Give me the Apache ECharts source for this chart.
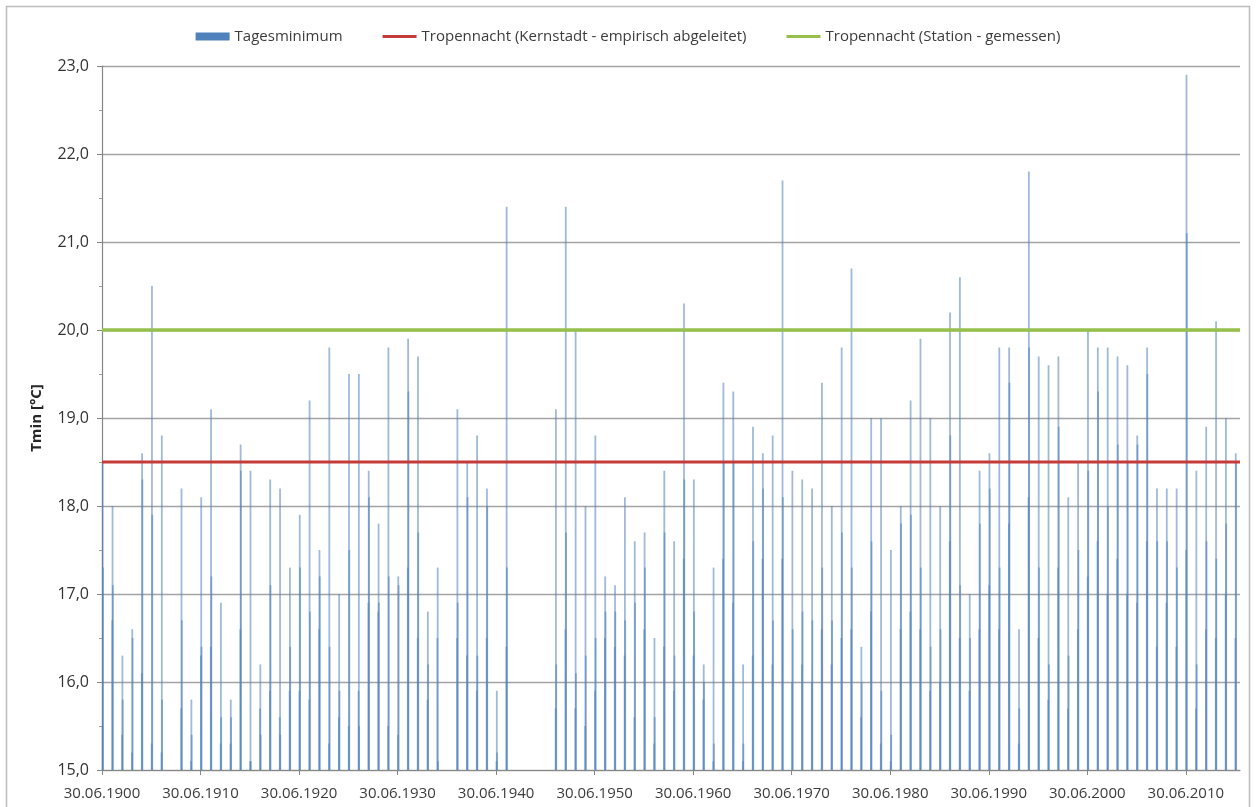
<!DOCTYPE html>
<html>
<head>
<meta charset="utf-8">
<script src="https://cdn.jsdelivr.net/npm/echarts@6/dist/echarts.min.js"></script>
<style>
html,body{margin:0;padding:0;background:#fff;}
#chart{width:1256px;height:807px;}
</style>
</head>
<body>
<div id="chart"></div>
<script>
// Years with summer daily minima above 15 °C (no data 1942-1945)
const years = [
  1900,1901,1902,1903,1904,1905,1906,1908,1909,1910,
  1911,1912,1913,1914,1915,1916,1917,1918,1919,1920,
  1921,1922,1923,1924,1925,1926,1927,1928,1929,1930,
  1931,1932,1933,1934,1936,1937,1938,1939,1940,1941,
  1946,1947,1948,1949,1950,1951,1952,1953,1954,1955,
  1956,1957,1958,1959,1960,1961,1962,1963,1964,1965,
  1966,1967,1968,1969,1970,1971,1972,1973,1974,1975,
  1976,1977,1978,1979,1980,1981,1982,1983,1984,1985,
  1986,1987,1988,1989,1990,1991,1992,1993,1994,1995,
  1996,1997,1998,1999,2000,2001,2002,2003,2004,2005,
  2006,2007,2008,2009,2010,2011,2012,2013,2014,2015
];
// Highest daily minimum of each summer (°C)
const peakTmin = [
  18.5,18.0,16.3,16.6,18.6,20.5,18.8,18.2,15.8,18.1,
  19.1,16.9,15.8,18.7,18.4,16.2,18.3,18.2,17.3,17.9,
  19.2,17.5,19.8,17.0,19.5,19.5,18.4,17.8,19.8,17.2,
  19.9,19.7,16.8,17.3,19.1,18.5,18.8,18.2,15.9,21.4,
  19.1,21.4,20.0,18.0,18.8,17.2,17.1,18.1,17.6,17.7,
  16.5,18.4,17.6,20.3,18.3,16.2,17.3,19.4,19.3,16.2,
  18.9,18.6,18.8,21.7,18.4,18.3,18.2,19.4,18.0,19.8,
  20.7,16.4,19.0,19.0,17.5,18.0,19.2,19.9,19.0,18.0,
  20.2,20.6,17.0,18.4,18.6,19.8,19.8,16.6,21.8,19.7,
  19.6,19.7,18.1,18.5,20.0,19.8,19.8,19.7,19.6,18.8,
  19.8,18.2,18.2,18.2,22.9,18.4,18.9,20.1,19.0,18.6
];
// Second visible level of daily minima in each summer (°C)
const secondTmin = [
  17.3,17.1,15.8,16.5,18.3,17.9,15.8,16.7,15.4,16.4,
  17.2,15.6,15.6,18.4,15.1,15.4,17.1,15.4,16.4,17.3,
  16.8,17.2,16.4,15.9,17.5,15.5,18.1,16.9,17.2,17.1,
  19.3,17.7,16.2,15.1,16.9,18.1,16.3,18.0,15.2,17.3,
  16.2,17.7,16.1,16.3,16.5,16.8,16.8,16.7,16.9,17.3,
  15.6,17.7,16.3,18.3,16.8,16.0,15.3,18.5,18.5,15.3,
  17.6,18.2,16.7,18.1,16.6,16.8,16.7,17.3,16.7,17.7,
  17.3,16.0,17.6,15.9,15.4,17.8,17.9,17.3,16.4,16.6,
  18.8,17.1,16.5,17.8,18.2,17.3,19.4,15.7,19.8,17.3,
  16.2,18.9,16.3,17.5,18.4,19.3,18.0,18.7,18.5,18.7,
  19.5,17.6,17.6,17.3,21.1,16.2,17.6,17.4,17.8,18.5
];
// Third visible level of daily minima in each summer (°C)
const thirdTmin = [
  15.5,16.7,15.4,15.2,16.1,15.3,15.2,15.7,15.1,16.3,
  16.4,15.3,15.3,16.6,15.1,15.7,15.9,15.6,15.9,15.9,
  15.8,16.6,15.3,15.6,15.5,15.9,16.9,16.8,15.5,15.4,
  17.3,16.5,15.8,16.5,16.5,16.3,15.9,16.5,15.1,16.4,
  15.7,16.6,15.7,15.5,15.9,16.5,16.4,16.3,15.6,16.6,
  15.3,16.4,15.9,17.4,16.3,15.8,15.1,17.4,16.9,15.1,
  16.3,17.4,16.2,17.4,16.0,16.2,16.0,16.6,16.2,16.5,
  16.6,15.6,16.8,15.3,15.1,16.6,16.8,16.6,15.9,16.0,
  17.6,16.5,15.9,16.6,17.1,16.6,17.8,15.3,18.1,16.5,
  15.8,17.3,15.7,16.6,17.2,17.6,17.0,17.4,17.0,16.9,
  17.6,16.4,16.9,16.4,17.5,15.7,16.6,16.5,17.0,16.5
];
const kernstadtThreshold = 18.5;   // Tropennacht (Kernstadt - empirisch abgeleitet)
const stationThreshold = 20.0;     // Tropennacht (Station - gemessen)
const axisStartYear = 1900;        // x axis starts 30.06.1900, ticks every 10 years
const axisSpanYears = 115.5;
const thirdDayOffset = 0.04;       // mid July, relative to 30.06.
const peakDayOffset = 0.07;        // late July
const secondDayOffset = 0.10;      // early August

const barData = [];
years.forEach((y, i) => {
  barData.push([y - axisStartYear + thirdDayOffset, thirdTmin[i]]);
  barData.push([y - axisStartYear + peakDayOffset, peakTmin[i]]);
  barData.push([y - axisStartYear + secondDayOffset, secondTmin[i]]);
});

const font = "'Open Sans', 'Liberation Sans', sans-serif";
const lineIcon = 'path://M0,0L36,0L36,3.2L0,3.2Z';
const chart = echarts.init(document.getElementById('chart'), null, {renderer: 'canvas'});
chart.setOption({
  animation: false,
  backgroundColor: '#ffffff',
  graphic: [{
    type: 'rect',
    shape: {x: 6.5, y: 6.5, width: 1243, height: 820},
    style: {fill: null, stroke: '#bdbdbd', lineWidth: 1.5},
    silent: true, z: -10
  }],
  legend: {
    top: 24,
    left: 'center',
    itemWidth: 34,
    itemHeight: 8,
    itemGap: 40,
    symbolKeepAspect: true,
    textStyle: {fontFamily: font, fontSize: 15, color: '#3c3c3c'},
    data: [
      {name: 'Tagesminimum', icon: 'rect', itemStyle: {color: '#4f81bd', opacity: 1}},
      {name: 'Tropennacht (Kernstadt - empirisch abgeleitet)', icon: lineIcon, itemStyle: {color: '#c43b38'}},
      {name: 'Tropennacht (Station - gemessen)', icon: lineIcon, itemStyle: {color: '#96bf4c'}}
    ]
  },
  grid: {left: 102, right: 16, top: 66, bottom: 37, containLabel: false},
  xAxis: {
    type: 'value',
    min: 0,
    max: axisSpanYears,
    interval: 10,
    axisLine: {show: true, onZero: false, lineStyle: {color: '#868686', width: 1.2}},
    axisTick: {show: true, length: 5, lineStyle: {color: '#868686'}},
    splitLine: {show: false},
    axisLabel: {
      margin: 16,
      fontFamily: font, fontSize: 15, color: '#3c3c3c',
      showMaxLabel: false,
      formatter: v => (Math.abs(v - Math.round(v)) < 1e-6 && Math.round(v) % 10 === 0) ? '30.06.' + (axisStartYear + Math.round(v)) : ''
    }
  },
  yAxis: {
    type: 'value',
    min: 15,
    max: 23,
    interval: 1,
    name: 'Tmin [°C]',
    nameLocation: 'middle',
    nameGap: 58,
    nameTextStyle: {fontFamily: font, fontSize: 15, fontWeight: 'bold', color: '#262626'},
    axisLine: {show: true, lineStyle: {color: '#868686', width: 1.2}},
    axisTick: {show: true, length: 5, lineStyle: {color: '#868686'}},
    minorTick: {show: true, splitNumber: 2, length: 3, lineStyle: {color: '#a0a0a0'}},
    splitLine: {show: true, lineStyle: {color: '#a3a3a3', width: 1.3}},
    axisLabel: {
      margin: 13,
      fontFamily: font, fontSize: 16, color: '#333333',
      formatter: v => v.toFixed(1).replace('.', ',')
    }
  },
  series: [
    {
      name: 'Tagesminimum',
      type: 'bar',
      data: barData,
      barWidth: 1.8,
      itemStyle: {color: '#4f81bd', opacity: 0.55},
      z: 2
    },
    {
      name: 'Tropennacht (Kernstadt - empirisch abgeleitet)',
      type: 'line',
      data: [[0, kernstadtThreshold], [axisSpanYears, kernstadtThreshold]],
      symbol: 'none',
      lineStyle: {color: '#c43b38', width: 3},
      itemStyle: {color: '#c43b38'},
      z: 5
    },
    {
      name: 'Tropennacht (Station - gemessen)',
      type: 'line',
      data: [[0, stationThreshold], [axisSpanYears, stationThreshold]],
      symbol: 'none',
      lineStyle: {color: '#96bf4c', width: 3.5},
      itemStyle: {color: '#96bf4c'},
      z: 5
    }
  ]
});
</script>
</body>
</html>
